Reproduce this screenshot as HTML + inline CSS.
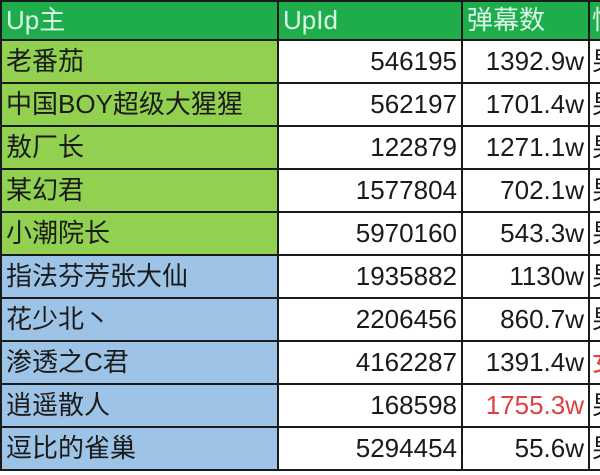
<!DOCTYPE html>
<html><head><meta charset="utf-8"><style>
body{margin:0;width:600px;height:475px;overflow:hidden;background:#fff;position:relative;font-family:"Liberation Sans","Noto Sans CJK SC",sans-serif;}
.w{position:absolute;left:0;top:0;width:600px;height:475px;overflow:hidden;}
table{position:absolute;left:0;top:0;border-collapse:collapse;table-layout:fixed;width:600px;}
td{border:2px solid #1a1a1a;height:41px;padding:0 4px;font-size:26px;color:#1a1a1a;white-space:nowrap;overflow:hidden;line-height:41px;}
tr.h td{background:#1fad4c;color:#d8f5e8;height:37px;line-height:37px;}
td.n{text-align:right;background:#fff;}
tr.g td.a{background:#92d050;}
tr.b td.a{background:#9dc3e6;}
td.c{background:#fff;padding:0 0 0 2px;}
.r{color:#e04040;}
</style></head><body><div class="w">
<table>
<colgroup><col style="width:277px"><col style="width:184px"><col style="width:127px"><col style="width:12px"></colgroup>
<tr class="h"><td>Up主</td><td>UpId</td><td>弹幕数</td><td style="padding-left:2px">性别</td></tr>
<tr class="g"><td class="a">老番茄</td><td class="n">546195</td><td class="n">1392.9w</td><td class="c">男</td></tr>
<tr class="g"><td class="a">中国BOY超级大猩猩</td><td class="n">562197</td><td class="n">1701.4w</td><td class="c">男</td></tr>
<tr class="g"><td class="a">敖厂长</td><td class="n">122879</td><td class="n">1271.1w</td><td class="c">男</td></tr>
<tr class="g"><td class="a">某幻君</td><td class="n">1577804</td><td class="n">702.1w</td><td class="c">男</td></tr>
<tr class="g"><td class="a">小潮院长</td><td class="n">5970160</td><td class="n">543.3w</td><td class="c">男</td></tr>
<tr class="b"><td class="a">指法芬芳张大仙</td><td class="n">1935882</td><td class="n">1130w</td><td class="c">男</td></tr>
<tr class="b"><td class="a">花少北丶</td><td class="n">2206456</td><td class="n">860.7w</td><td class="c">男</td></tr>
<tr class="b"><td class="a">渗透之C君</td><td class="n">4162287</td><td class="n">1391.4w</td><td class="c r">女</td></tr>
<tr class="b"><td class="a">逍遥散人</td><td class="n">168598</td><td class="n r">1755.3w</td><td class="c">男</td></tr>
<tr class="b"><td class="a">逗比的雀巢</td><td class="n">5294454</td><td class="n">55.6w</td><td class="c">男</td></tr>
</table>
</div></body></html>
